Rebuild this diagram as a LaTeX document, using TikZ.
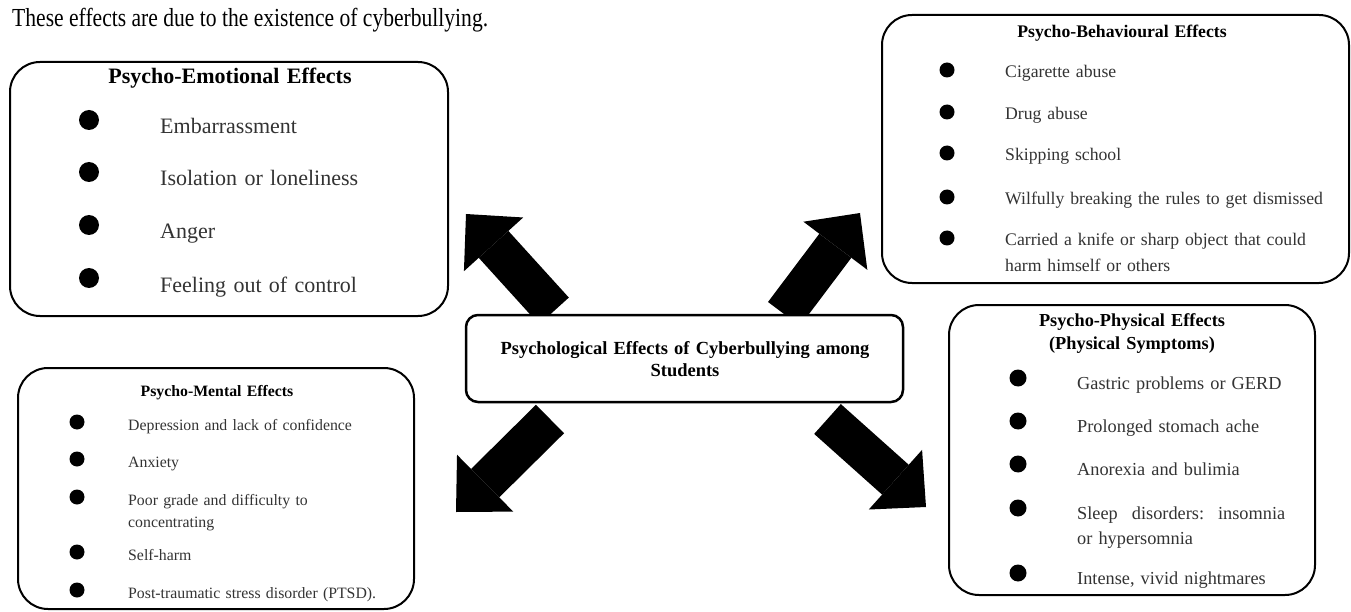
\documentclass[tikz,border=0pt]{standalone}
\usepackage{fontspec}
\setmainfont{Liberation Serif}
\newfontfamily\introfont{Liberation Serif}[FakeStretch=0.83]
\usetikzlibrary{arrows.meta}
\definecolor{itemgrey}{gray}{0.2}

\begin{document}
\begin{tikzpicture}[x=1pt,y=-1pt]
    \tikzstyle{panel}=[draw=black,line width=2pt,rounded corners=30pt,fill=white,inner sep=0pt]
    \tikzstyle{dot}=[circle,fill=black,inner sep=0pt]
    \tikzstyle{item}=[anchor=base west,inner sep=0pt,text width=340pt,align=left,text=itemgrey]
    \tikzstyle{head}=[anchor=base,inner sep=0pt,text width=440pt,align=center]
    \tikzstyle{bigarrow}=[line width=40pt,-{Triangle[length=41pt,width=80pt,line width=0pt 0 0]}]

    \useasboundingbox (0,0) rectangle (1351,612);

    \node[anchor=base west,inner sep=0pt,font=\introfont\fontsize{26}{30}\selectfont] (intro) at (12,27)
        {These effects are due to the existence of cyberbullying.};

    % block arrows first, the centre box covers their tails
    \coordinate (NW-tail) at (554,311);   \coordinate (NW-tip) at (466,214);
    \coordinate (NE-tail) at (784,314);   \coordinate (NE-tip) at (860,213);
    \coordinate (SW-tail) at (550,419);   \coordinate (SW-tip) at (456,512);
    \coordinate (SE-tail) at (827.5,419); \coordinate (SE-tip) at (926,507);
    \foreach \dir in {NW,NE,SW,SE}
        \draw[bigarrow] (\dir-tail) -- (\dir-tip);

    \node[panel,rounded corners=12pt,line width=2.5pt,minimum width=437pt,minimum height=87pt] (centre) at (684.5,358.5) {};
    \node[head,font=\bfseries\fontsize{18.5}{22}\selectfont] (centre-title) at (685,354)
        {Psychological Effects of Cyberbullying among\\Students};

    % psycho-emotional
    \node[panel,minimum width=438pt,minimum height=254pt] (emo) at (229,189) {};
    \node[head,font=\bfseries\fontsize{22}{26}\selectfont] (emo-title) at (230,84) {Psycho-Emotional Effects};
    \foreach \num/\y/\txt in {1/120/Embarrassment, 2/172/Isolation or loneliness, 3/225/Anger, 4/278/Feeling out of control} {
        \node[dot,minimum size=20pt] (E-\num) at (89,\y) {};
        \node[item,font=\fontsize{22}{26}\selectfont] (E-\num-text) at (160,\y+14) {\txt};
    }

    % psycho-behavioural
    \node[panel,minimum width=467pt,minimum height=268pt] (beh) at (1115.5,149) {};
    \node[head,font=\bfseries\fontsize{17.7}{22}\selectfont] (beh-title) at (1122,38) {Psycho-Behavioural Effects};
    \foreach \num/\y/\txt in {1/70/Cigarette abuse, 2/112/Drug abuse, 3/153/Skipping school,
            4/197/Wilfully breaking the rules to get dismissed,
            5/238/{Carried a knife or sharp object that could\\harm himself or others}} {
        \node[dot,minimum size=15pt] (B-\num) at (947,\y) {};
        \node[item,font=\fontsize{17.7}{26}\selectfont] (B-\num-text) at (1005,\y+8) {\txt};
    }

    % psycho-mental
    \node[panel,minimum width=396pt,minimum height=241pt] (men) at (216,488.5) {};
    \node[head,font=\bfseries\fontsize{15.8}{20}\selectfont] (men-title) at (217,396) {Psycho-Mental Effects};
    \foreach \num/\y/\txt in {1/422/Depression and lack of confidence, 2/459/Anxiety,
            3/497/{Poor grade and difficulty to\\concentrating}, 4/552/Self-harm,
            5/590/{Post-traumatic stress disorder (PTSD).}} {
        \node[dot,minimum size=15pt] (M-\num) at (77,\y) {};
        \node[item,font=\fontsize{15.8}{22}\selectfont] (M-\num-text) at (128,\y+8) {\txt};
    }

    % psycho-physical
    \node[panel,minimum width=366pt,minimum height=290pt] (phy) at (1132,450) {};
    \node[head,font=\bfseries\fontsize{18.3}{23}\selectfont] (phy-title) at (1132,326)
        {Psycho-Physical Effects\\(Physical Symptoms)};
    \foreach \num/\y/\txt in {1/378/Gastric problems or GERD, 2/421/Prolonged stomach ache,
            3/464/Anorexia and bulimia,
            4/508/{\makebox[208pt][s]{Sleep\hfill disorders:\hfill insomnia}\\or hypersomnia},
            5/573/{Intense, vivid nightmares}} {
        \node[dot,minimum size=17pt] (P-\num) at (1018,\y) {};
        \node[item,font=\fontsize{18.3}{25}\selectfont] (P-\num-text) at (1077,\y+11) {\txt};
    }
\end{tikzpicture}
\end{document}
